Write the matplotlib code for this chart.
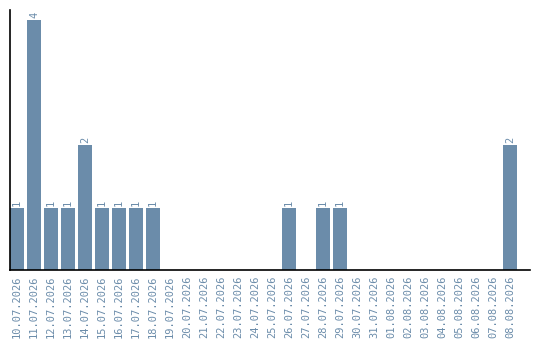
import matplotlib
matplotlib.use("Agg")
import matplotlib.pyplot as plt

dates = ["10.07.2026", "11.07.2026", "12.07.2026", "13.07.2026", "14.07.2026",
         "15.07.2026", "16.07.2026", "17.07.2026", "18.07.2026", "19.07.2026",
         "20.07.2026", "21.07.2026", "22.07.2026", "23.07.2026", "24.07.2026",
         "25.07.2026", "26.07.2026", "27.07.2026", "28.07.2026", "29.07.2026",
         "30.07.2026", "31.07.2026", "01.08.2026", "02.08.2026", "03.08.2026",
         "04.08.2026", "05.08.2026", "06.08.2026", "07.08.2026", "08.08.2026"]
counts = [1, 4, 1, 1, 2, 1, 1, 1, 1, 0,
          0, 0, 0, 0, 0, 0, 1, 0, 1, 1,
          0, 0, 0, 0, 0, 0, 0, 0, 0, 2]

bar_color = "#6b8caa"
text_color = "#6b8caa"
font = "DejaVu Sans Mono"

fig = plt.figure(figsize=(5.4, 3.4), dpi=100)
ax = fig.add_axes([10 / 540, 70 / 340, 520 / 540, 260 / 340])

x = list(range(len(dates)))
ax.bar(x, counts, width=0.82, color=bar_color, zorder=2)

for xi, c in zip(x, counts):
    if c > 0:
        ax.text(xi, c + 0.03, str(c), rotation=90, ha="center", va="bottom",
                fontsize=7.5, family=font, color=text_color)

ax.set_xlim(-0.41, 30.18)
ax.set_ylim(0, 4.16)
ax.set_xticks(x)
ax.set_xticklabels(dates, rotation=90, fontsize=7.5, family=font, color=text_color)
ax.tick_params(axis="x", length=0, pad=4)
ax.set_yticks([])

for side in ("top", "right"):
    ax.spines[side].set_visible(False)
for side in ("left", "bottom"):
    ax.spines[side].set_color("black")
    ax.spines[side].set_linewidth(1.2)

fig.savefig("out.png", dpi=100)
